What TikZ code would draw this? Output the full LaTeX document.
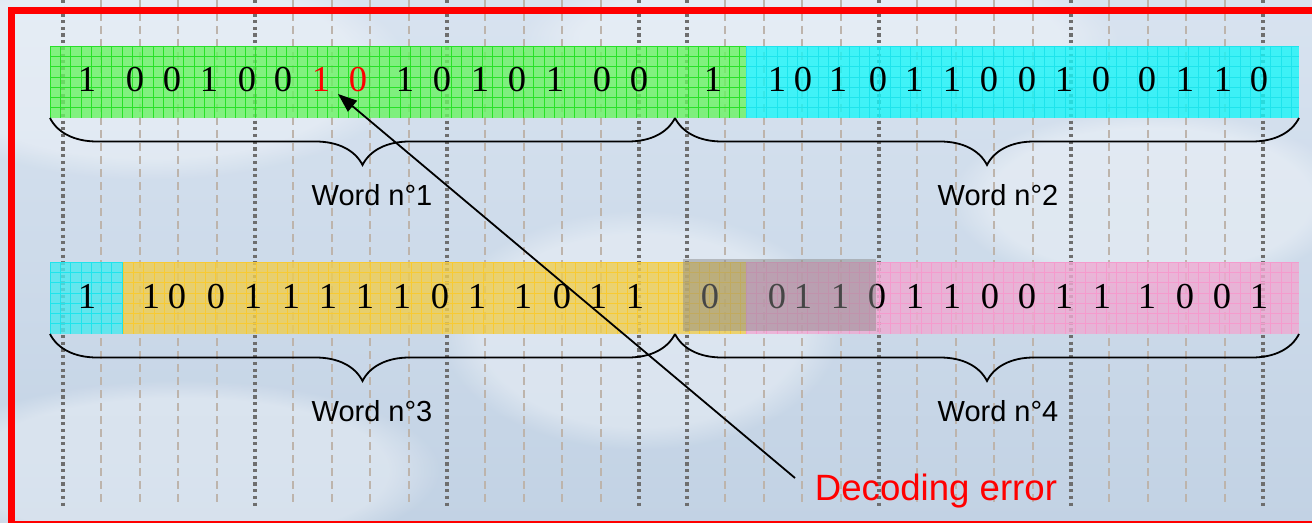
\documentclass[tikz,border=0pt]{standalone}
\usepackage{fontspec}
\setmainfont{Liberation Serif}
\setsansfont{Liberation Sans}
\usetikzlibrary{decorations.pathreplacing,arrows.meta,fadings}

\definecolor{skytop}{HTML}{D8E3F0}
\definecolor{skybot}{HTML}{C2D2E4}
\definecolor{framered}{HTML}{FF0000}
\definecolor{dotgray}{HTML}{6E6E6E}
\definecolor{dashtan}{HTML}{BDB4AC}
\definecolor{greenfill}{RGB}{105,243,98}
\definecolor{greengrid}{RGB}{40,225,40}
\definecolor{cyanfill}{RGB}{24,245,248}
\definecolor{cyanpale}{RGB}{74,233,239}
\definecolor{cyangrid}{RGB}{30,228,236}
\definecolor{yellowfill}{RGB}{239,205,79}
\definecolor{yellowgrid}{RGB}{248,202,50}
\definecolor{pinkfill}{RGB}{239,170,210}
\definecolor{pinkgrid}{RGB}{245,155,205}
\definecolor{shadegray}{HTML}{8C8C8C}

% a coloured band with a fine square grid on it
% #1,#2 = top left, #3,#4 = bottom right, #5 = fill, #6 = grid colour
\newcommand\bandbox[6]{%
  \fill[#5, fill opacity=0.8] (#1,#2) rectangle (#3,#4);
  \pgfmathtruncatemacro\ncols{(#3-#1)/10.29}%
  \pgfmathtruncatemacro\nrows{(#4-#2)/10.29}%
  \foreach \i in {0,...,\ncols} \draw[#6, line width=0.7bp] (#1+\i*10.29,#2) -- (#1+\i*10.29,#4);
  \foreach \j in {0,...,\nrows} \draw[#6, line width=0.7bp] (#1,#2+\j*10.29) -- (#3,#2+\j*10.29);
}

\begin{document}
\begin{tikzpicture}[x=1bp,y=-1bp,
  bit/.style={font=\fontsize{36.5bp}{40bp}\selectfont, inner sep=0pt, anchor=base},
  wordlabel/.style={font=\sffamily\fontsize{29bp}{32bp}\selectfont, inner sep=0pt, anchor=base},
  errlabel/.style={font=\sffamily\fontsize{36.6bp}{40bp}\selectfont, text=framered, inner sep=0pt, anchor=base},
  wordbrace/.style={decorate, decoration={brace, mirror, amplitude=47bp}, line width=1.8bp},
  dotline/.style={dotgray, line width=3.2bp, dash pattern=on 3.2bp off 3.5bp},
  dashline/.style={dashtan, line width=2bp, dash pattern=on 8bp off 5bp},
  pointer/.style={line width=1.8bp, -{Triangle[length=19bp,width=14bp]}},
  cloud/.style={white, fill opacity=0.35, path fading=circle with fuzzy edge 20 percent}]

\useasboundingbox (0,0) rectangle (1312,523);
\clip (0,0) rectangle (1312,523);

% sky
\shade[top color=skytop, bottom color=skybot] (0,0) rectangle (1312,523);
\fill[cloud] (150,70) ellipse (260 and 110);
\fill[cloud] (820,40) ellipse (300 and 80);
\fill[cloud] (180,470) ellipse (260 and 90);
\fill[cloud] (640,330) ellipse (200 and 120);
\fill[cloud] (1150,200) ellipse (200 and 90);

% vertical guide lines
\foreach \x in {63,255,447,639,687,879,1071,1263}
  \draw[dotline] (\x,0) -- (\x,507);
\foreach \s in {63,687}
  \foreach \k in {1,2,3,4,6,7,8,9,11,12,13,14}
    \draw[dashline] (\s+\k*38.4,0) -- (\s+\k*38.4,505);

% coloured bands
\bandbox{50}{46}{746}{118}{greenfill}{greengrid}
\bandbox{746}{46}{1299}{118}{cyanfill}{cyangrid}
\bandbox{50}{262}{123}{334}{cyanpale}{cyangrid}
\bandbox{123}{262}{746}{334}{yellowfill}{yellowgrid}
\bandbox{746}{262}{1299}{334}{pinkfill}{pinkgrid}

% first transmitted sequence
\foreach \x/\d/\c [count=\i] in {87/1/black,135/0/black,172/0/black,209/1/black,247/0/black,283/0/black,
  321/1/framered,358/0/framered,405/1/black,442/0/black,480/1/black,517/0/black,555/1/black,602/0/black,
  639/0/black,713/1/black,777/1/black,803/0/black,838/1/black,878/0/black,914/1/black,952/1/black,
  989/0/black,1027/0/black,1064/1/black,1101/0/black,1147/0/black,1185/1/black,1223/1/black,1259/0/black}
  \node[bit, text=\c] (a\i) at (\x,92) {\d};

% second transmitted sequence
\foreach \x/\d [count=\i] in {87/1,151/1,177/0,216/0,253/1,291/1,328/1,365/1,402/1,440/0,477/1,
  523/1,562/0,598/1,635/1,710/0,777/0,803/1,840/1,877/0,915/1,952/1,990/0,1027/0,1064/1,1102/1,
  1147/1,1185/0,1222/0,1259/1}
  \node[bit] (b\i) at (\x,308) {\d};

% shaded window over the second sequence
\fill[shadegray, fill opacity=0.5] (683,259) rectangle (876,331);

% word braces
\coordinate (r1a) at (50,118);
\coordinate (r1b) at (675,118);
\coordinate (r1c) at (1299,118);
\coordinate (r2a) at (50,334);
\coordinate (r2b) at (675,334);
\coordinate (r2c) at (1299,334);
\draw[wordbrace] (r1a) -- (r1b);
\draw[wordbrace] (r1b) -- (r1c);
\draw[wordbrace] (r2a) -- (r2b);
\draw[wordbrace] (r2b) -- (r2c);

\node[wordlabel] (w1) at (372,206) {Word n°1};
\node[wordlabel] (w2) at (998,206) {Word n°2};
\node[wordlabel] (w3) at (372,421) {Word n°3};
\node[wordlabel] (w4) at (998,421) {Word n°4};

% error annotation
\node[errlabel] (err) at (936,500) {Decoding error};
\coordinate (errtail) at (795,478);
\coordinate (errtip) at (338,94);
\draw[pointer] (errtail) -- (errtip);

% frame
\draw[framered, line width=7bp] (11.5,10.5) rectangle (1330,524.5);
\end{tikzpicture}
\end{document}
